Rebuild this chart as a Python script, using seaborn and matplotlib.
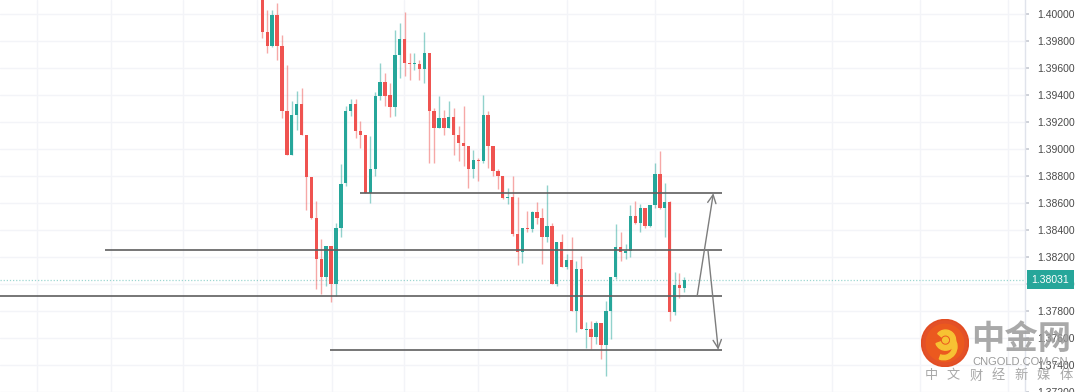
import numpy as np
import pandas as pd
import matplotlib
matplotlib.use("Agg")
import matplotlib.pyplot as plt
import matplotlib.transforms as mtransforms
from matplotlib.patches import Circle, Wedge
import seaborn as sns

# candle data (one entry per bar, left to right)
opens = [1.40251, 1.39869, 1.39759, 1.39993, 1.39766, 1.39279, 1.38959, 1.39249, 1.39336, 1.39107,
         1.38792, 1.38487, 1.38185, 1.38049, 1.38283, 1.38000, 1.38418, 1.38751, 1.39279, 1.39334,
         1.39131, 1.39107, 1.38677, 1.38849, 1.39390, 1.39493, 1.39397, 1.39311, 1.39697, 1.39813,
         1.39636, 1.39629, 1.39629, 1.39594, 1.39710, 1.39279, 1.39156, 1.39230, 1.39156, 1.39238,
         1.39107, 1.39046, 1.39021, 1.38849, 1.38915, 1.38910, 1.39255, 1.39021, 1.38836, 1.38799,
         1.38635, 1.38644, 1.38369, 1.38238, 1.38411, 1.38404, 1.38534, 1.38492, 1.38345, 1.38430,
         1.38000, 1.38308, 1.38123, 1.38179, 1.37803, 1.38111, 1.37661, 1.37663, 1.37607, 1.37710,
         1.37550, 1.37803, 1.38049, 1.38271, 1.38227, 1.38246, 1.38504, 1.38455, 1.38566, 1.38430,
         1.38583, 1.38812, 1.38566, 1.38607, 1.37796, 1.37993, 1.37970]
highs = [1.40288, 1.40030, 1.40030, 1.40083, 1.39845, 1.39624, 1.39353, 1.39427, 1.39452, 1.39107,
         1.38792, 1.38615, 1.38332, 1.38283, 1.38283, 1.38455, 1.38886, 1.39316, 1.39373, 1.39373,
         1.39205, 1.39107, 1.39094, 1.39419, 1.39636, 1.39562, 1.39489, 1.39882, 1.39931, 1.40017,
         1.39710, 1.39710, 1.39661, 1.39869, 1.39710, 1.39304, 1.39390, 1.39292, 1.39353, 1.39304,
         1.39168, 1.39316, 1.39021, 1.38996, 1.38935, 1.39402, 1.39279, 1.39021, 1.38849, 1.38799,
         1.38714, 1.38799, 1.38647, 1.38411, 1.38541, 1.38541, 1.38607, 1.38566, 1.38731, 1.38455,
         1.38308, 1.38369, 1.38221, 1.38345, 1.38172, 1.38209, 1.37717, 1.37729, 1.37729, 1.37710,
         1.37877, 1.38049, 1.38443, 1.38386, 1.38295, 1.38583, 1.38615, 1.38590, 1.38566, 1.38583,
         1.38893, 1.38984, 1.38751, 1.38615, 1.38086, 1.38081, 1.38049]
lows = [1.39821, 1.39710, 1.39753, 1.39661, 1.39230, 1.38959, 1.38959, 1.39139, 1.39107, 1.38548,
        1.38480, 1.37963, 1.37926, 1.37988, 1.37865, 1.37914, 1.38345, 1.38726, 1.39242, 1.39083,
        1.39009, 1.38677, 1.38603, 1.38799, 1.39365, 1.39316, 1.39238, 1.39242, 1.39525, 1.39537,
        1.39513, 1.39587, 1.39513, 1.39489, 1.38898, 1.38898, 1.39156, 1.39107, 1.39156, 1.38959,
        1.38910, 1.38873, 1.38714, 1.38787, 1.38762, 1.38898, 1.38861, 1.38799, 1.38701, 1.38627,
        1.38590, 1.38356, 1.38142, 1.38155, 1.38382, 1.38382, 1.38443, 1.38148, 1.38312, 1.38000,
        1.37988, 1.38123, 1.38111, 1.37803, 1.37648, 1.37663, 1.37526, 1.37520, 1.37557, 1.37447,
        1.37319, 1.37594, 1.38037, 1.38172, 1.38185, 1.38197, 1.38443, 1.38382, 1.38418, 1.38423,
        1.38566, 1.38554, 1.38345, 1.37729, 1.37771, 1.37894, 1.37943]
closes = [1.39869, 1.39759, 1.39993, 1.39766, 1.39279, 1.38959, 1.39255, 1.39336, 1.39107, 1.38792,
          1.38487, 1.38185, 1.38054, 1.38283, 1.38000, 1.38418, 1.38743, 1.39279, 1.39334, 1.39131,
          1.39107, 1.38677, 1.38849, 1.39390, 1.39493, 1.39390, 1.39311, 1.39697, 1.39813, 1.39636,
          1.39629, 1.39636, 1.39594, 1.39710, 1.39279, 1.39156, 1.39230, 1.39156, 1.39238, 1.39107,
          1.39046, 1.39021, 1.38849, 1.38915, 1.38910, 1.39255, 1.39021, 1.38836, 1.38799, 1.38640,
          1.38644, 1.38369, 1.38238, 1.38411, 1.38404, 1.38534, 1.38492, 1.38345, 1.38430, 1.38000,
          1.38308, 1.38123, 1.38179, 1.37803, 1.38111, 1.37663, 1.37668, 1.37607, 1.37710, 1.37550,
          1.37803, 1.38049, 1.38271, 1.38234, 1.38246, 1.38504, 1.38455, 1.38566, 1.38430, 1.38583,
          1.38812, 1.38566, 1.38607, 1.37796, 1.37993, 1.37970, 1.38031]

last_price = 1.38031

# hand drawn support / resistance lines: (price, start bar, end bar)
level_prices = [1.38672, 1.38251, 1.37911, 1.37513]
level_starts = [19.9, -32.1, -53.5, 13.8]
level_ends = [93.7, 93.7, 93.7, 93.7]

# projection arrows: (bar, price) tail -> head
arrow_tails = [(88.6, 1.37911), (90.8, 1.38251)]
arrow_heads = [(91.9, 1.38672), (92.9, 1.37513)]

price_ticks = [1.372, 1.374, 1.376, 1.378, 1.380, 1.382, 1.384, 1.386,
               1.388, 1.390, 1.392, 1.394, 1.396, 1.398, 1.400]
time_grid = [-45.9, -30.8, -16.2, -1.1, 14.2, 28.9, 44.0, 62.1, 80.0, 98.0, 116.0, 134.0, 152.0]

watermark_sub = ["中", "文", "财", "经", "新", "媒", "体"]

UP = "#26a69a"
DOWN = "#ef5350"
GRID = "#f3f4f8"

df = pd.DataFrame({"open": opens, "high": highs, "low": lows, "close": closes})
df["bar"] = np.arange(len(df))
df["up"] = df["close"] >= df["open"]

sns.set_theme(style="white")
plt.rcParams['font.family'] = ['Liberation Sans', 'DejaVu Sans']

fig = plt.figure(figsize=(10.8, 3.92), dpi=100)
ax = fig.add_axes([0, 0, 1025 / 1080, 1])

# grid
for p in price_ticks:
    ax.axhline(p, color=GRID, lw=1, zorder=0)
for t in time_grid:
    ax.axvline(t, color=GRID, lw=1, zorder=0)

# candles
colors = np.where(df["up"], UP, DOWN)
ax.vlines(df["bar"], df["low"], df["high"], colors=colors, lw=1.0, alpha=0.5, zorder=2)
body_low = np.minimum(df["open"], df["close"])
body_h = np.maximum((df["close"] - df["open"]).abs(), 0.00008)
ax.bar(df["bar"], body_h, bottom=body_low, width=0.68, color=colors, linewidth=0, zorder=3)

# last price dotted line
ax.axhline(last_price, color=UP, lw=0.9, ls=(0, (1, 1.5)), alpha=0.45, zorder=1)

# drawn levels
for p, s, e in zip(level_prices, level_starts, level_ends):
    ax.plot([s, e], [p, p], color="#5f5f5f", lw=1.2, zorder=4, solid_capstyle="butt")

for tail, head in zip(arrow_tails, arrow_heads):
    ax.annotate("", xy=head, xytext=tail,
                arrowprops=dict(arrowstyle="->,head_length=0.5,head_width=0.25",
                                color="#7d7d7d", lw=1.0, shrinkA=0, shrinkB=0), zorder=5)

ax.set_xlim(-53.45, 155.4)
ax.set_ylim(1.372103, 1.401033)
ax.set_xticks([])
ax.yaxis.tick_right()
ax.set_yticks(price_ticks)
ax.set_yticklabels([f"{p:.5f}" for p in price_ticks])
ax.tick_params(axis="y", length=3, pad=5.6, color="#c8ccd4", labelsize=7.5,
               labelcolor="#4a4a4a", right=True, left=False)
for side in ["top", "left", "bottom"]:
    ax.spines[side].set_visible(False)
ax.spines["right"].set_color("#e0e3eb")
ax.spines["right"].set_linewidth(1)

# current price badge
trans = mtransforms.blended_transform_factory(ax.transAxes, ax.transData)
ax.text(1.0065, last_price, "1.38031", transform=trans, ha="left", va="center",
        color="white", fontsize=7.5, clip_on=False, zorder=10,
        bbox=dict(boxstyle="square,pad=0.42", fc=UP, ec="none"))

# watermark logo
lax = fig.add_axes([921 / 1080, 1 - 367 / 392, 48 / 1080, 48 / 392])
lax.set_aspect("equal")
lax.set_xlim(-1, 1)
lax.set_ylim(-1, 1)
lax.axis("off")
lax.add_patch(Circle((0, 0), 0.98, color="#e2481c", alpha=0.95))
lax.add_patch(Circle((0, 0), 0.78, color="#ec5a1e", alpha=0.9))
lax.add_patch(Wedge((0.02, 0.12), 0.42, 200, 500, width=0.2, color="#f7c233"))
lax.add_patch(Wedge((-0.05, -0.15), 0.55, 250, 40, width=0.18, color="#f7c233"))
lax.add_patch(Circle((0.02, 0.12), 0.12, color="#f7c233"))

cjk = ['Noto Sans CJK SC', 'DejaVu Sans']
fig.text(1021 / 1080, 1 - 340 / 392, "中金网", family=cjk, fontsize=24, fontweight="bold",
         color="#9a9a9a", alpha=0.85, ha="center", va="center")
fig.text(1020 / 1080, 1 - 362 / 392, "CNGOLD.COM.CN", fontsize=8, color="#9a9a9a",
         ha="center", va="center")
for i, ch in enumerate(watermark_sub):
    fig.text((931 + 22.5 * i) / 1080, 1 - 376 / 392, ch, family=cjk, fontsize=9.5,
             color="#a8a8a8", ha="center", va="center")

plt.savefig("out.png", dpi=100)
plt.close()
